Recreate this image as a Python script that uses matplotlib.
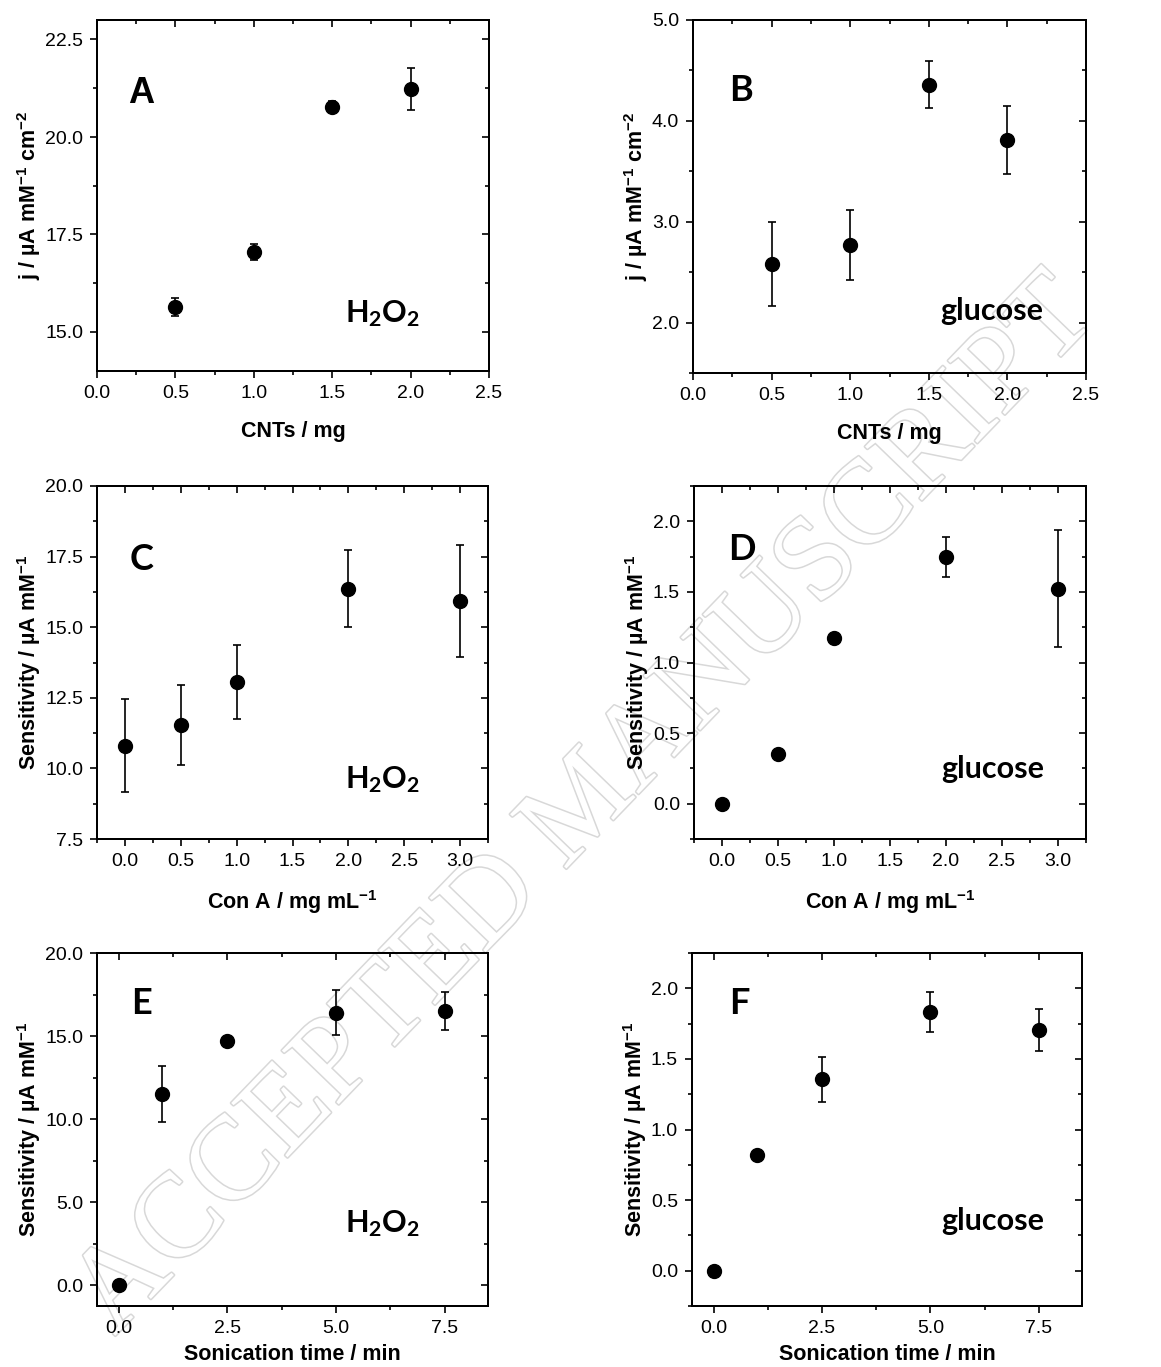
import numpy as np
import matplotlib.pyplot as plt
import matplotlib.patheffects as pe
from matplotlib.ticker import MultipleLocator, FormatStrFormatter

plt.rcParams['font.family'] = ['Liberation Sans', 'DejaVu Sans']
plt.rcParams['mathtext.default'] = 'regular'

# A / B : CNT loading
cnt_mg = [0.5, 1.0, 1.5, 2.0]
a_j = [15.64, 17.05, 20.78, 21.23]
a_err = [0.22, 0.20, 0.15, 0.53]
b_j = [2.58, 2.77, 4.36, 3.81]
b_err = [0.42, 0.35, 0.23, 0.335]

# C / D : Con A concentration
cona = [0.0, 0.5, 1.0, 2.0, 3.0]
c_sens = [10.80, 11.54, 13.05, 16.37, 15.93]
c_err = [1.64, 1.43, 1.31, 1.36, 1.99]
d_sens = [0.0, 0.354, 1.172, 1.748, 1.524]
d_err = [0.0, 0.0, 0.03, 0.14, 0.414]

# E / F : sonication time
son_min = [0.0, 1.0, 2.5, 5.0, 7.5]
e_sens = [0.0, 11.50, 14.71, 16.40, 16.52]
e_err = [0.0, 1.67, 0.15, 1.36, 1.13]
f_sens = [0.0, 0.817, 1.355, 1.832, 1.705]
f_err = [0.0, 0.02, 0.16, 0.14, 0.15]

W, H = 1161, 1367
fig = plt.figure(figsize=(W / 100, H / 100), dpi=100)

calibri = ['Lato', 'DejaVu Sans']


def add_ax(l, r, t, b):
    ax = fig.add_axes([l / W, 1 - b / H, (r - l) / W, (b - t) / H])
    ax.patch.set_visible(False)
    return ax


def panel(ax, x, y, err, xlim, ylim, xstep, ystep, xlabel, ylabel,
          letter, letter_pos, species, species_pos, xpad, letter_font=calibri):
    ax.errorbar(x, y, yerr=err, fmt='o', color='black', ms=10,
                capsize=2.8, elinewidth=1.2, capthick=1.2)
    ax.set_xlim(xlim)
    ax.set_ylim(ylim)
    for a in (ax, ax.twinx(), ax.twiny()):
        a.set_xlim(xlim)
        a.set_ylim(ylim)
        a.xaxis.set_major_locator(MultipleLocator(xstep))
        a.xaxis.set_minor_locator(MultipleLocator(xstep / 2))
        a.yaxis.set_major_locator(MultipleLocator(ystep))
        a.yaxis.set_minor_locator(MultipleLocator(ystep / 2))
        for s in a.spines.values():
            s.set_linewidth(1.4)
    twins = fig.axes[-2:]
    ax.tick_params(which='both', direction='out', top=False, right=False,
                   labelsize=14, width=1.2, pad=5)
    ax.tick_params(which='major', length=5)
    ax.tick_params(which='minor', length=3)
    for t in twins:
        t.tick_params(which='both', direction='in', width=1.2,
                      labelleft=False, labelright=False,
                      labeltop=False, labelbottom=False)
        t.tick_params(which='major', length=5)
        t.tick_params(which='minor', length=3)
    ax.xaxis.set_major_formatter(FormatStrFormatter('%.1f'))
    ax.yaxis.set_major_formatter(FormatStrFormatter('%.1f'))
    ax.set_xlabel(xlabel, fontsize=15.5, fontweight='bold', labelpad=xpad)
    ax.set_ylabel(ylabel, fontsize=15.5, fontweight='bold', labelpad=1.5)
    ax.text(letter_pos[0], letter_pos[1], letter, transform=ax.transAxes,
            family=letter_font, fontsize=26, fontweight='bold', va='baseline')
    ax.text(species_pos[0], species_pos[1], species, transform=ax.transAxes,
            family=calibri, fontsize=22, fontweight='bold', va='baseline')


j_label = 'j / µA mM$^{-1}$ cm$^{-2}$'
s_label = 'Sensitivity / µA mM$^{-1}$'
h2o2 = 'H$_2$O$_2$'

axA = add_ax(97, 489, 20, 371)
panel(axA, cnt_mg, a_j, a_err, (0, 2.5), (14, 23), 0.5, 2.5,
      'CNTs / mg', j_label, 'A', (0.08, 0.763), h2o2, (0.633, 0.14), 14,
      letter_font=['Liberation Sans', 'DejaVu Sans'])

axB = add_ax(693, 1086, 20, 373)
panel(axB, cnt_mg, b_j, b_err, (0, 2.5), (1.5, 5.0), 0.5, 1.0,
      'CNTs / mg', j_label, 'B', (0.092, 0.77), 'glucose', (0.63, 0.15), 14)

axC = add_ax(97, 488, 486, 839)
panel(axC, cona, c_sens, c_err, (-0.25, 3.25), (7.5, 20), 0.5, 2.5,
      'Con A / mg mL$^{-1}$', s_label, 'C', (0.084, 0.762), h2o2, (0.634, 0.144), 13)

axD = add_ax(694, 1086, 486, 839)
panel(axD, cona, d_sens, d_err, (-0.25, 3.25), (-0.25, 2.25), 0.5, 0.5,
      'Con A / mg mL$^{-1}$', s_label, 'D', (0.087, 0.79), 'glucose', (0.632, 0.172), 13)

axE = add_ax(97, 488, 953, 1306)
panel(axE, son_min, e_sens, e_err, (-0.5, 8.5), (-1.25, 20), 2.5, 5.0,
      'Sonication time / min', s_label, 'E', (0.087, 0.827), h2o2, (0.634, 0.21), 5)

axF = add_ax(692, 1082, 953, 1306)
panel(axF, son_min, f_sens, f_err, (-0.5, 8.5), (-0.25, 2.25), 2.5, 0.5,
      'Sonication time / min', s_label, 'F', (0.095, 0.827), 'glucose', (0.638, 0.215), 5)

# watermark
fig.text(0.505, 0.41, 'ACCEPTED MANUSCRIPT', rotation=46, ha='center', va='center',
         family=['Liberation Serif', 'DejaVu Serif'], fontsize=86, color='white',
         zorder=-5, rotation_mode='anchor',
         path_effects=[pe.withStroke(linewidth=2.2, foreground='#d8d8d8')])

fig.savefig('out.png', dpi=100)
